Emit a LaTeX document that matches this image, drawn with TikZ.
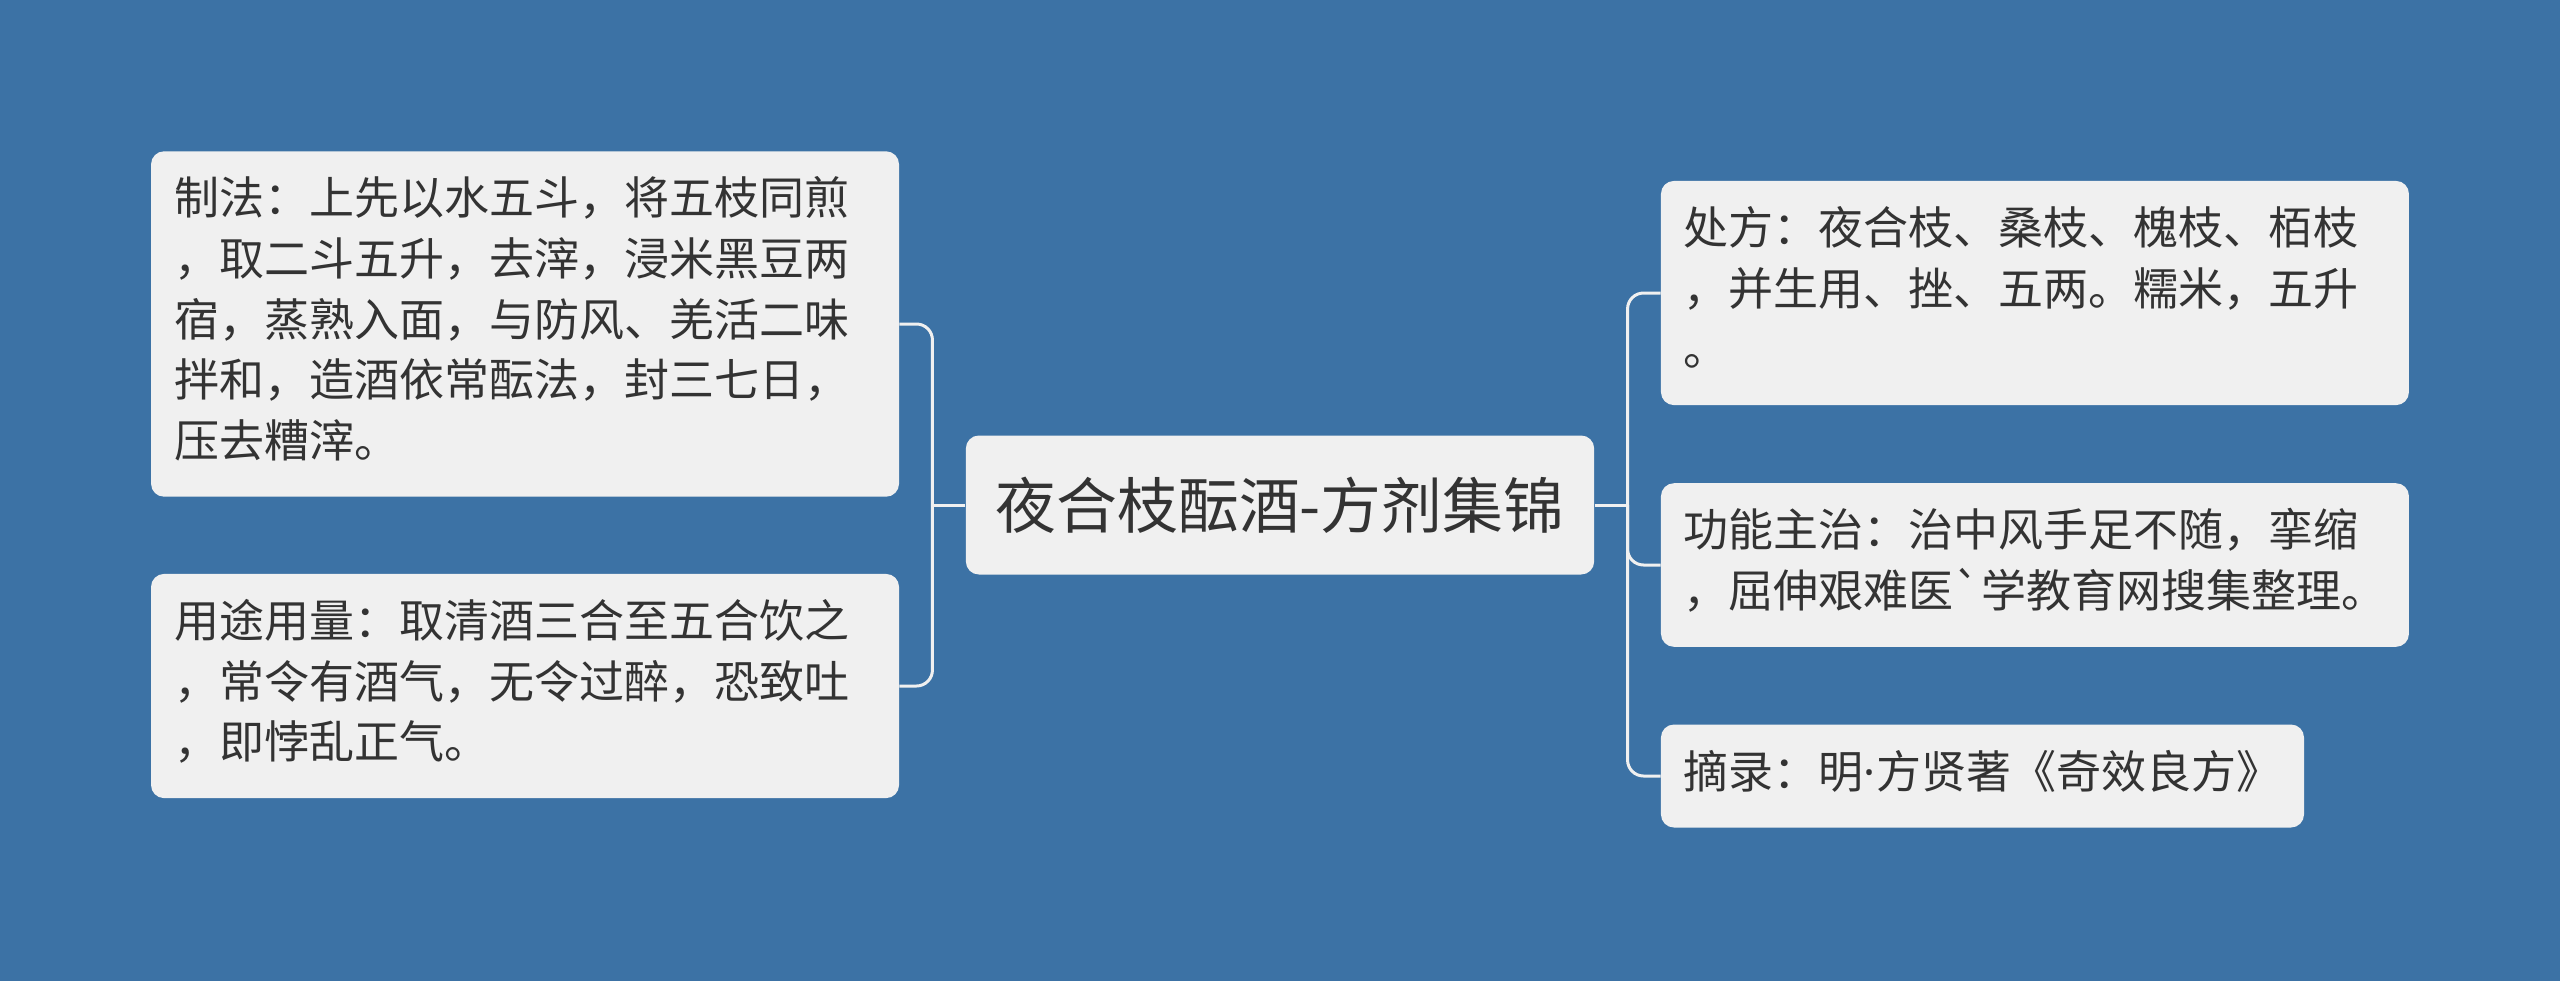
\documentclass[tikz,border=0pt]{standalone}
\usepackage{fontspec}
\newfontfamily\cjk{Noto Sans CJK SC}
\newfontfamily\latin{Noto Sans}
\usetikzlibrary{positioning}
\definecolor{mapblue}{HTML}{3C72A5}
\definecolor{cardgray}{HTML}{F0F0F0}
\definecolor{inkgray}{HTML}{333333}
\tikzset{
    base/.style = {
        fill=cardgray, rounded corners=6.5pt, text=inkgray
    },
    % Nodes
    topic/.style    = {base, minimum width=314pt, minimum height=69.5pt, inner xsep=15pt,
                       font=\cjk\fontsize{30.4pt}{36pt}\selectfont},
    leaf/.style     = {base, align=left, inner xsep=11.5pt, inner ysep=10.6pt,
                       font=\cjk\fontsize{22.5pt}{30.3pt}\selectfont,
                       execute at begin node=\strut, execute at end node=\strut},
    wideleaf/.style = {leaf, text width=351pt},
    % Connectors
    branch/.style = {draw=cardgray, line width=1.5pt, rounded corners=8pt}
}
\begin{document}
\begin{tikzpicture}[x=1pt, y=1pt, node distance=33pt]
    \fill [mapblue] (0,0) rectangle (1280,-490.5);
    \useasboundingbox (0,0) rectangle (1280,-490.5);

    \node (title) [topic] at (640,-252.5) {夜合枝酝酒-方剂集锦};

    \node (method) [wideleaf, left=of title, yshift=90.5pt]
        {制法：上先以水五斗，将五枝同煎\\，取二斗五升，去滓，浸米黑豆两\\宿，蒸熟入面，与防风、羌活二味\\拌和，造酒依常酝法，封三七日，\\压去糟滓。};
    \node (usage) [wideleaf, left=of title, yshift=-90.5pt]
        {用途用量：取清酒三合至五合饮之\\，常令有酒气，无令过醉，恐致吐\\，即悖乱正气。};

    \node (recipe) [wideleaf, right=of title, yshift=106pt]
        {处方：夜合枝、桑枝、槐枝、栢枝\\，并生用、挫、五两。糯米，五升\\。};
    \node (effect) [wideleaf, right=of title, yshift=-30pt]
        {功能主治：治中风手足不随，挛缩\\，屈伸艰难医`学教育网搜集整理。};
    \node (source) [leaf, right=of title, yshift=-135.5pt]
        {摘录：明{\latin ·}方贤著《奇效良方》};

    \coordinate [left=16.5pt of title.west] (jl);
    \coordinate [right=16.5pt of title.east] (jr);

    \draw [branch] (title.west) -- (jl);
    \draw [branch] (jl) |- (method.east);
    \draw [branch] (jl) |- (usage.east);
    \draw [branch] (title.east) -- (jr);
    \draw [branch] (jr) |- (recipe.west);
    \draw [branch] (jr) |- (effect.west);
    \draw [branch] (jr) |- (source.west);
\end{tikzpicture}
\end{document}
